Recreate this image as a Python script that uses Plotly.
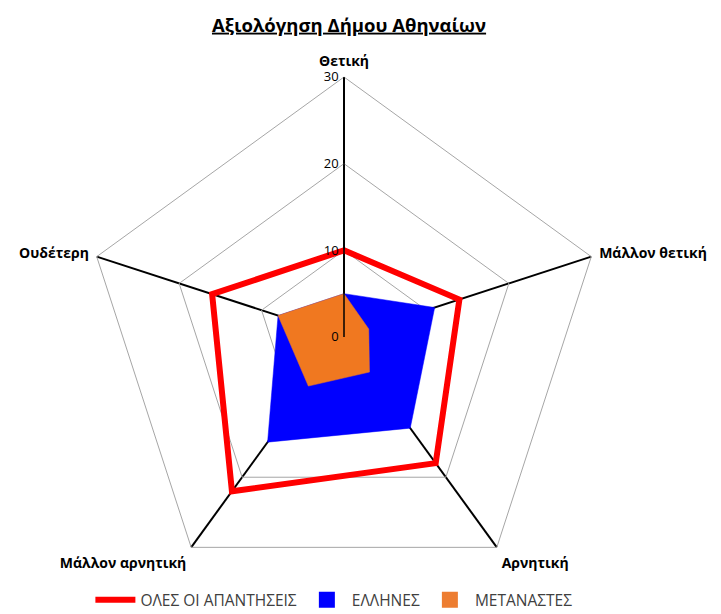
import plotly.graph_objects as go

categories = ["Θετική", "Μάλλον θετική", "Αρνητική", "Μάλλον αρνητική", "Ουδέτερη"]
all_answers = [10, 14, 18, 22, 16]
greeks = [5, 11, 13, 15, 8]
migrants = [5, 3, 5, 7, 8]
radial_ticks = [0, 10, 20, 30]

BLUE = "#0000FF"
ORANGE = "#F07820"
RED = "#FF0000"

def closed(v):
    return list(v) + [v[0]]

cats_c = closed(categories)

fig = go.Figure()
fig.add_trace(go.Scatterpolar(
    r=closed(greeks), theta=cats_c, name="ΕΛΛΗΝΕΣ", mode="lines",
    fill="toself", fillcolor=BLUE, line=dict(color=BLUE, width=0.5),
    showlegend=False))
fig.add_trace(go.Scatterpolar(
    r=closed(migrants), theta=cats_c, name="ΜΕΤΑΝΑΣΤΕΣ", mode="lines",
    fill="toself", fillcolor=ORANGE, line=dict(color=ORANGE, width=0.5),
    showlegend=False))
fig.add_trace(go.Scatterpolar(
    r=closed(all_answers), theta=cats_c, name="ΟΛΕΣ ΟΙ ΑΠΑΝΤΗΣΕΙΣ", mode="lines",
    line=dict(color=RED, width=6), legendrank=1))
# legend-only swatches for the filled series
fig.add_trace(go.Scatterpolar(
    r=[None], theta=[categories[0]], name="ΕΛΛΗΝΕΣ", mode="markers",
    marker=dict(symbol="square", size=16, color=BLUE), legendrank=2))
fig.add_trace(go.Scatterpolar(
    r=[None], theta=[categories[0]], name="ΜΕΤΑΝΑΣΤΕΣ", mode="markers",
    marker=dict(symbol="square", size=16, color="#ED7D31"), legendrank=3))

fig.update_layout(
    width=721, height=614,
    margin=dict(l=0, r=0, t=0, b=0),
    paper_bgcolor="white", plot_bgcolor="white",
    font=dict(family="Open Sans, Liberation Sans, sans-serif", color="#000000"),
    title=dict(text="<b><u>Αξιολόγηση Δήμου Αθηναίων</u></b>", x=0.473, xanchor="center",
               y=0.972, yanchor="middle", font=dict(size=18.5, color="#000000")),
    polar=dict(
        domain=dict(x=[76/721, 596/721], y=[1-589/614, 1-69/614]),
        bgcolor="white",
        gridshape="linear",
        angularaxis=dict(
            rotation=90, direction="clockwise",
            showline=True, linecolor="#A6A6A6", linewidth=1,
            gridcolor="#000000", gridwidth=1.5,
            ticks="outside", ticklen=5, tickcolor="rgba(0,0,0,0)",
            tickfont=dict(size=14, color="#000000", family="Open Sans, sans-serif", weight="bold"),
        ),
        radialaxis=dict(
            range=[0, 30], tickvals=radial_ticks, angle=90, tickangle=90,
            showline=True, linecolor="#000000", linewidth=1.5,
            gridcolor="#A6A6A6", gridwidth=1,
            ticks="", side="counterclockwise",
            tickfont=dict(size=13, color="#000000"),
        ),
    ),
    legend=dict(orientation="h", x=0.452, xanchor="center", y=0.008, yanchor="bottom",
                font=dict(size=15.5, color="#404040"), bgcolor="rgba(0,0,0,0)",
                traceorder="normal", itemwidth=40),
)

fig.write_html("out.html")
